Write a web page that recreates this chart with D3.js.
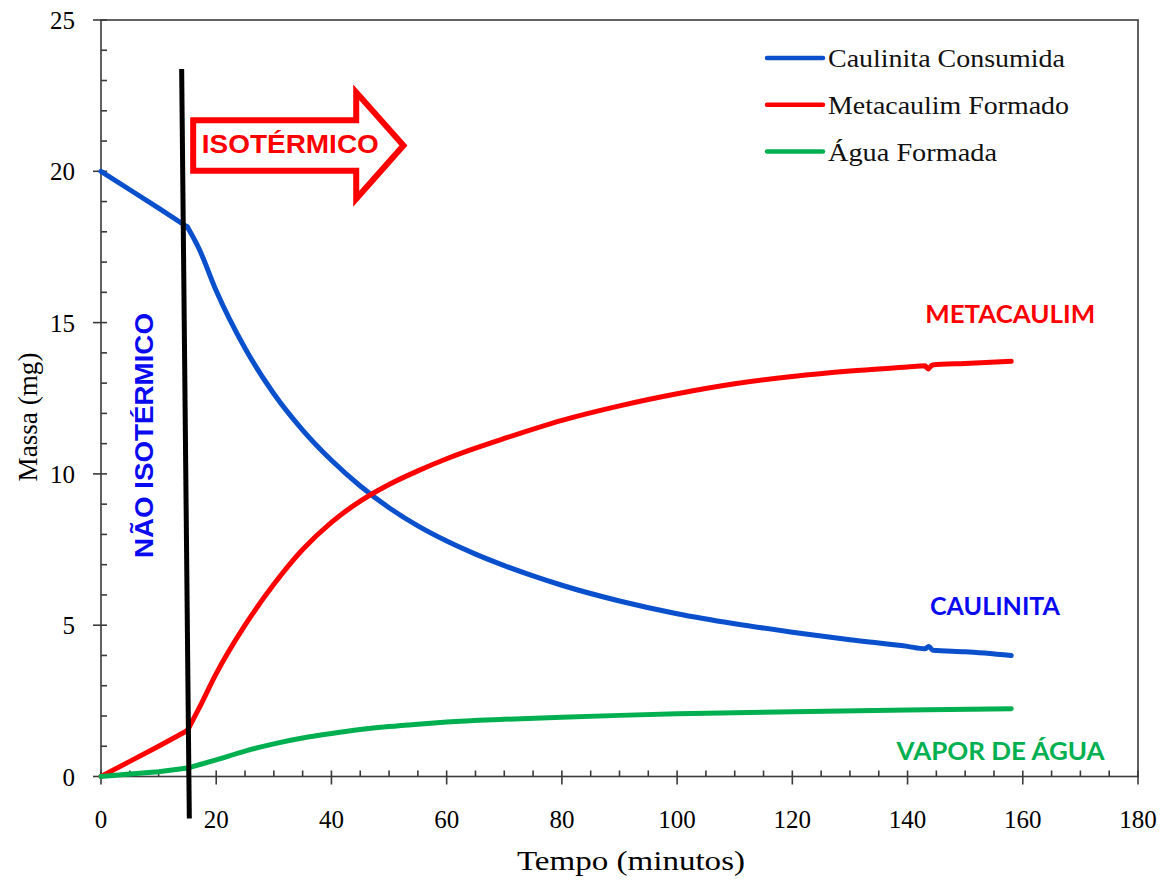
<!DOCTYPE html>
<html>
<head>
<meta charset="utf-8">
<script src="https://cdn.jsdelivr.net/npm/d3@7"></script>
<style>
  html, body { margin: 0; padding: 0; background: #fff; }
  svg { display: block; }
</style>
</head>
<body>
<svg id="chart" width="1171" height="886"></svg>
<script>
// Time (minutes) and mass (mg) readings for each series.
// The first four samples of every series cover the non-isothermal ramp (0–15 min).
const caulinitaTime = [0, 5, 10, 15, 17, 20, 25, 30, 35, 40, 45, 50, 55, 60, 65, 70, 75, 80, 90, 100, 110, 120, 130, 140, 143, 143.7, 144.4, 150, 158];
const caulinitaMass = [20, 19.39, 18.78, 18.16, 17.45, 16.05, 14.15, 12.65, 11.45, 10.45, 9.6, 8.88, 8.28, 7.78, 7.35, 6.97, 6.63, 6.32, 5.8, 5.38, 5.05, 4.77, 4.52, 4.3, 4.22, 4.3, 4.17, 4.12, 4.0];

const metacaulimTime = [0, 5, 10, 15, 17, 20, 25, 30, 35, 40, 45, 50, 55, 60, 65, 70, 80, 90, 100, 110, 120, 130, 140, 143, 143.6, 144.3, 150, 158];
const metacaulimMass = [0, 0.5, 1.0, 1.52, 2.25, 3.4, 5.0, 6.35, 7.5, 8.4, 9.1, 9.65, 10.1, 10.5, 10.85, 11.17, 11.77, 12.25, 12.65, 12.98, 13.22, 13.4, 13.53, 13.57, 13.47, 13.6, 13.65, 13.72];

const aguaTime = [0, 5, 10, 15, 20, 25, 30, 35, 40, 45, 50, 55, 60, 70, 80, 90, 100, 110, 120, 140, 158];
const aguaMass = [0, 0.08, 0.16, 0.28, 0.55, 0.84, 1.08, 1.27, 1.42, 1.55, 1.65, 1.73, 1.8, 1.89, 1.96, 2.02, 2.07, 2.11, 2.14, 2.2, 2.24];

const rampEnd = 15; // minutes: end of the heating ramp
const seriesNames = ["Caulinita Consumida", "Metacaulim Formado", "Água Formada"];
const xTickLabels = [0, 20, 40, 60, 80, 100, 120, 140, 160, 180];
const yTickLabels = [0, 5, 10, 15, 20, 25];

// Boundary between the non-isothermal ramp and the isothermal stage (time, mass)
const boundaryTime = [14.0, 15.33];
const boundaryMass = [23.38, -1.39];

const svg = d3.select("#chart");
const x = d3.scaleLinear().domain([0, 180]).range([101, 1138]);
const y = d3.scaleLinear().domain([0, 25]).range([776.5, 20]);

const axisColor = "#3a3a3a";
const serif = "'Liberation Serif', 'Times New Roman', serif";

// Plot frame
svg.append("rect")
  .attr("x", x(0)).attr("y", y(25))
  .attr("width", x(180) - x(0)).attr("height", y(0) - y(25))
  .attr("fill", "none").attr("stroke", axisColor).attr("stroke-width", 1.6);

// Ticks: majors cross the axis, minors point inward
const ticks = svg.append("g").attr("stroke", axisColor).attr("stroke-width", 1.6);
d3.range(0, 181, 5).forEach(t => {
  const major = t % 20 === 0;
  ticks.append("line")
    .attr("x1", x(t)).attr("x2", x(t))
    .attr("y1", y(0) - 6).attr("y2", y(0) + (major ? 8 : 0));
});
d3.range(0, 26, 1).forEach(v => {
  const major = v % 5 === 0;
  ticks.append("line")
    .attr("y1", y(v)).attr("y2", y(v))
    .attr("x1", x(0) - (major ? 8 : 0)).attr("x2", x(0) + 6);
});

// Tick labels
svg.append("g").selectAll("text").data(xTickLabels).join("text")
  .attr("x", d => x(d)).attr("y", y(0) + 51)
  .attr("text-anchor", "middle")
  .attr("font-family", serif).attr("font-size", 25)
  .attr("fill", "#000")
  .text(d => d);
svg.append("g").selectAll("text").data(yTickLabels).join("text")
  .attr("x", x(0) - 26).attr("y", d => y(d) + 9)
  .attr("text-anchor", "end")
  .attr("font-family", serif).attr("font-size", 25)
  .attr("fill", "#000")
  .text(d => d);

// Axis titles
svg.append("text")
  .attr("x", 631).attr("y", 870)
  .attr("text-anchor", "middle")
  .attr("font-family", serif).attr("font-size", 28)
  .attr("textLength", 228).attr("lengthAdjust", "spacingAndGlyphs")
  .text("Tempo (minutos)");
svg.append("text")
  .attr("transform", "translate(37,417) rotate(-90)")
  .attr("text-anchor", "middle")
  .attr("font-family", serif).attr("font-size", 28)
  .attr("textLength", 129).attr("lengthAdjust", "spacingAndGlyphs")
  .text("Massa (mg)");

// Series: straight ramp segment, then a smooth isothermal segment
const series = [
  { name: seriesNames[0], color: "#0a4fcc", pts: caulinitaTime.map((t, i) => [t, caulinitaMass[i]]) },
  { name: seriesNames[1], color: "#ff0000", pts: metacaulimTime.map((t, i) => [t, metacaulimMass[i]]) },
  { name: seriesNames[2], color: "#00b050", pts: aguaTime.map((t, i) => [t, aguaMass[i]]) }
];
const rampLine = d3.line().x(d => x(d[0])).y(d => y(d[1])).curve(d3.curveLinear);
const isoLine = d3.line().x(d => x(d[0])).y(d => y(d[1])).curve(d3.curveMonotoneX);
const curves = svg.append("g")
  .attr("fill", "none")
  .attr("stroke-width", 5)
  .attr("stroke-linejoin", "round")
  .attr("stroke-linecap", "round");
series.forEach(s => {
  curves.append("path")
    .attr("d", rampLine(s.pts.filter(p => p[0] <= rampEnd)))
    .attr("stroke", s.color);
  curves.append("path")
    .attr("d", isoLine(s.pts.filter(p => p[0] >= rampEnd)))
    .attr("stroke", s.color);
});

// Boundary line between stages
svg.append("line")
  .attr("x1", x(boundaryTime[0])).attr("y1", y(boundaryMass[0]))
  .attr("x2", x(boundaryTime[1])).attr("y2", y(boundaryMass[1]))
  .attr("stroke", "#000").attr("stroke-width", 5);

// Isothermal arrow
const arrowPts = [[16.0, 21.69], [44.3, 21.69], [44.3, 22.61], [52.5, 20.85], [44.3, 19.09], [44.3, 20.02], [16.0, 20.02]];
svg.append("polygon")
  .attr("points", arrowPts.map(p => [x(p[0]), y(p[1])].join(",")).join(" "))
  .attr("fill", "#fff").attr("stroke", "#ff0000").attr("stroke-width", 6)
  .attr("stroke-linejoin", "miter");
svg.append("text")
  .attr("x", x(17.5)).attr("y", y(20.59))
  .attr("font-family", "'Liberation Sans', Arial, sans-serif").attr("font-weight", "bold")
  .attr("font-size", 25).attr("fill", "#ff0000")
  .attr("textLength", 177).attr("lengthAdjust", "spacingAndGlyphs")
  .text("ISOTÉRMICO");

// Stage / product labels
svg.append("text")
  .attr("transform", `translate(${x(9.08)},${y(7.22)}) rotate(-90)`)
  .attr("font-family", "'Liberation Sans', Arial, sans-serif").attr("font-weight", "bold")
  .attr("font-size", 25).attr("fill", "#0a0af0")
  .attr("textLength", 245).attr("lengthAdjust", "spacingAndGlyphs")
  .text("NÃO ISOTÉRMICO");

const calibriLike = "Lato, 'Open Sans', sans-serif";
[
  { t: 143.06, m: 15.0, w: 170, color: "#ff0000", label: "METACAULIM" },
  { t: 143.9, m: 5.34, w: 130, color: "#0a0af0", label: "CAULINITA" },
  { t: 138.1, m: 0.55, w: 208, color: "#00b050", label: "VAPOR DE ÁGUA" }
].forEach(a => {
  svg.append("text")
    .attr("x", x(a.t)).attr("y", y(a.m))
    .attr("font-family", calibriLike).attr("font-weight", "bold")
    .attr("font-size", 25).attr("fill", a.color)
    .attr("textLength", a.w).attr("lengthAdjust", "spacingAndGlyphs")
    .text(a.label);
});

// Legend
const legendWidths = [237, 241, 169];
const legend = svg.append("g").attr("transform", "translate(767,58)");
series.forEach((s, i) => {
  const g = legend.append("g").attr("transform", `translate(0,${i * 46.8})`);
  g.append("line")
    .attr("x1", 0).attr("x2", 56).attr("y1", 0).attr("y2", 0)
    .attr("stroke", s.color).attr("stroke-width", 4.5).attr("stroke-linecap", "round");
  g.append("text")
    .attr("x", 61).attr("y", 9)
    .attr("font-family", serif).attr("font-size", 25)
    .attr("fill", "#111")
    .attr("textLength", legendWidths[i]).attr("lengthAdjust", "spacingAndGlyphs")
    .text(s.name);
});
</script>
</body>
</html>
